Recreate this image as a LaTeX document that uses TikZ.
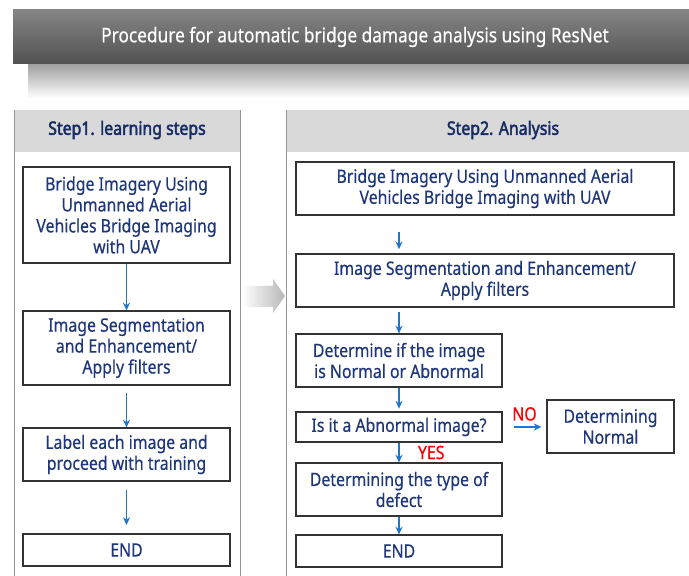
\documentclass[tikz,border=0pt]{standalone}
\usepackage{fontspec}
\setmainfont{Noto Sans}[FakeStretch=0.86, FakeBold=0.4]
\newfontfamily\headfont{Noto Sans}[FakeStretch=0.86, FakeBold=2.4]
\usetikzlibrary{arrows.meta}
\definecolor{navy}{RGB}{30,54,122}
\definecolor{flowblue}{RGB}{28,118,210}
\definecolor{hdrgray}{RGB}{217,217,217}
\definecolor{panelgray}{RGB}{150,150,150}

\begin{document}
\begin{tikzpicture}[x=0.025cm, y=-0.025cm, >={Stealth[length=5.5pt, width=5pt]},
    txt/.style={font=\fontsize{13.1}{14.9}\selectfont},
    box/.style={txt, draw=black!80, line width=0.8pt, fill=white, text=navy, align=center, inner sep=0pt},
    hdr/.style={font=\headfont\fontsize{13.1}{14.9}\selectfont, text=navy!80!black},
    flow/.style={->, flowblue, line width=1pt},
    lbl/.style={txt, text=red, inner sep=1pt}]
    \useasboundingbox (0,0) rectangle (689,576);
    \clip (0,0) rectangle (689,576);

    % banner and its shadow
    \shade[top color=black!40, bottom color=white] (28,62) rectangle (700,98);
    \shade[top color=black!48, bottom color=black!68] (13,10) rectangle (700,64);
    \node[font=\fontsize{14.3}{16}\selectfont, text=white] (title) at (355,37)
        {Procedure for automatic bridge damage analysis using ResNet};

    % the two panels
    \draw[panelgray, fill=white] (14,110) rectangle (240,600);
    \fill[hdrgray] (14.5,110.5) rectangle (239.5,152);
    \draw[panelgray, fill=white] (286,110) rectangle (700,600);
    \fill[hdrgray] (286.5,110.5) rectangle (700,152);
    \node[hdr] (head1) at (127,130) {Step1. learning steps};
    \node[hdr] (head2) at (503,130) {Step2. Analysis};

    % arrow from step 1 to step 2
    \shade[left color=white, right color=black!28] (242,286) -- (273,286) -- (273,279) -- (285,296)
        -- (273,313) -- (273,307) -- (242,307) -- cycle;

    % learning steps
    \node[box, minimum width=5.175cm, minimum height=2.4cm] (l1) at (126.5,215)
        {Bridge Imagery Using\\Unmanned Aerial\\Vehicles Bridge Imaging\\with UAV};
    \node[box, minimum width=5.175cm, minimum height=1.85cm] (l2) at (126.5,348)
        {Image Segmentation\\and Enhancement/\\Apply filters};
    \node[box, minimum width=5.175cm, minimum height=1.325cm] (l3) at (126.5,454.5)
        {Label each image and\\proceed with training};
    \node[box, minimum width=5.175cm, minimum height=0.8cm] (l4) at (126.5,550) {END};

    \draw[flow] (l1) -- (l2);
    \draw[flow, shorten <=5pt] (l2) -- (l3);
    \draw[flow, shorten <=6pt, shorten >=6pt] (l3) -- (l4);

    % analysis
    \node[box, minimum width=9.45cm, minimum height=1.325cm] (r1) at (485,188.5)
        {Bridge Imagery Using Unmanned Aerial\\Vehicles Bridge Imaging with UAV};
    \node[box, minimum width=9.45cm, minimum height=1.325cm] (r2) at (485,280.5)
        {Image Segmentation and Enhancement/\\Apply filters};
    \node[box, minimum width=5.15cm, minimum height=1.325cm] (r3) at (399,360.5)
        {Determine if the image\\is Normal or Abnormal};
    \node[box, minimum width=5.15cm, minimum height=0.75cm] (r4) at (399,427) {Is it a Abnormal image?};
    \node[box, minimum width=5.15cm, minimum height=1.325cm] (r5) at (399,489.5)
        {Determining the type of\\defect};
    \node[box, minimum width=5.15cm, minimum height=0.8cm] (r6) at (399,551) {END};
    \node[box, minimum width=3.175cm, minimum height=1.325cm] (norm) at (610.5,426.5)
        {Determining\\Normal};

    \draw[flow, shorten <=12pt, shorten >=3pt] (r1.south -| r4) -- (r2.north -| r4);
    \draw[flow, shorten <=3.5pt] (r2.south -| r4) -- (r3);
    \draw[flow, shorten >=2pt] (r3) -- (r4);
    \draw[flow] (r4) -- (r5) node[lbl, midway, right=12pt] {YES};
    \draw[flow] (r5) -- (r6);
    \draw[flow, shorten <=8pt, shorten >=3.5pt] (r4.east) -- (r4.east -| norm.west)
        node[lbl, midway, above=3pt] {NO};
\end{tikzpicture}
\end{document}
